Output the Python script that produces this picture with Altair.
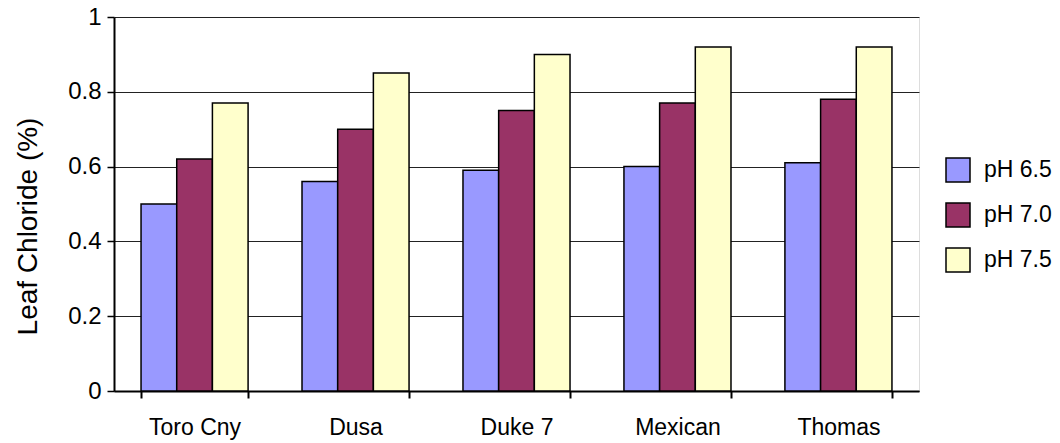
import altair as alt
import pandas as pd

# Leaf chloride (%) by rootstock and irrigation water pH
varieties = ["Toro Cny", "Dusa", "Duke 7", "Mexican", "Thomas"]
series = ["pH 6.5", "pH 7.0", "pH 7.5"]
ph_65 = [0.50, 0.56, 0.59, 0.60, 0.61]
ph_70 = [0.62, 0.70, 0.75, 0.77, 0.78]
ph_75 = [0.77, 0.85, 0.90, 0.92, 0.92]
colors = ["#9999FF", "#993366", "#FFFFCC"]

rows = []
for s, vals in zip(series, [ph_65, ph_70, ph_75]):
    for v, val in zip(varieties, vals):
        rows.append({"variety": v, "series": s, "value": val})
df = pd.DataFrame(rows)

FONT = "Liberation Sans"

bars = alt.Chart(df).mark_bar(stroke="black", strokeWidth=1.5).encode(
    x=alt.X(
        "variety:N",
        sort=varieties,
        title=None,
        scale=alt.Scale(paddingInner=0.335, paddingOuter=0.168),
        axis=alt.Axis(
            labelAngle=0,
            labelFont=FONT,
            labelFontSize=23,
            labelColor="black",
            labelPadding=18,
            domainColor="black",
            domainWidth=2,
            tickColor="black",
            tickWidth=2,
            tickSize=7,
            tickBand="extent",
            grid=False,
        ),
    ),
    xOffset=alt.XOffset("series:N", sort=series, scale=alt.Scale(paddingInner=0, paddingOuter=0)),
    y=alt.Y(
        "value:Q",
        title="Leaf Chloride (%)",
        scale=alt.Scale(domain=[0, 1], nice=False),
        axis=alt.Axis(
            values=[0, 0.2, 0.4, 0.6, 0.8, 1],
            labelExpr="datum.value == 0 || datum.value == 1 ? format(datum.value, 'd') : format(datum.value, '.1f')",
            labelFont=FONT,
            labelFontSize=24,
            labelColor="black",
            labelPadding=6,
            domainColor="black",
            domainWidth=2,
            tickColor="black",
            tickWidth=1.5,
            tickSize=7,
            grid=True,
            gridColor="#222222",
            gridWidth=1,
            titleFont=FONT,
            titleFontSize=28,
            titleFontWeight="normal",
            titleColor="black",
            titleX=-86,
            titleY=209,
            titleAngle=270,
            titleAlign="center",
            titleBaseline="middle",
        ),
    ),
    color=alt.Color(
        "series:N",
        sort=series,
        scale=alt.Scale(domain=series, range=colors),
        legend=alt.Legend(
            title=None,
            orient="none",
            legendX=831,
            legendY=140,
            symbolType="square",
            symbolSize=576,
            symbolStrokeColor="black",
            symbolStrokeWidth=1.5,
            symbolOpacity=1,
            labelFont=FONT,
            labelFontSize=23,
            labelColor="black",
            labelOffset=13,
            rowPadding=15,
        ),
    ),
)

chart = bars.properties(
    width=805,
    height=374,
    autosize=alt.AutoSizeParams(type="none"),
    padding={"left": 114, "top": 17, "right": 141, "bottom": 52},
).configure_view(
    stroke="#888888",
    strokeWidth=2,
).configure(background="white")

chart.save("out.html", embed_options={"renderer": "svg", "actions": False})
